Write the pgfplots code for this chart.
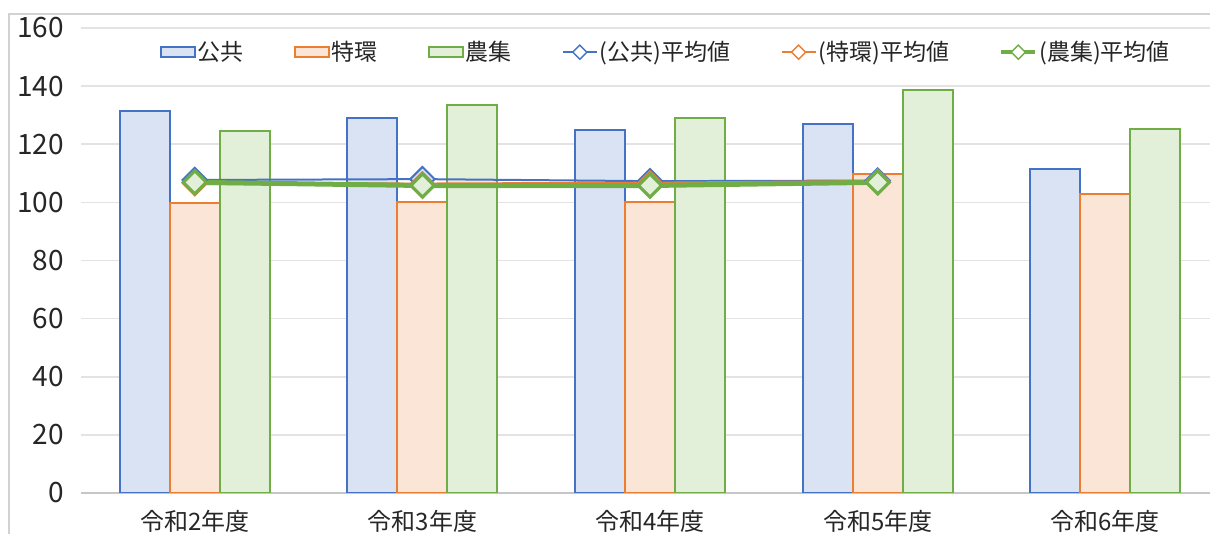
\documentclass[border=0pt]{standalone}
\usepackage{fontspec}
\setmainfont{Noto Sans CJK JP}
\usepackage{pgfplots}
\pgfplotsset{compat=1.18}

\definecolor{kobl}{HTML}{4472C4}
\definecolor{koblf}{HTML}{DAE3F3}
\definecolor{toku}{HTML}{ED7D31}
\definecolor{tokuf}{HTML}{FBE5D6}
\definecolor{nou}{HTML}{70AD47}
\definecolor{nouf}{HTML}{E2F0D9}

% legend images like the spreadsheet's
\pgfplotsset{
  barleg/.style={legend image code/.code={\draw[##1] (0pt,-2.5pt) rectangle (17pt,2.5pt);}},
  lineleg/.style n args={3}{legend image code/.code={
      \draw[#1, line width=#3] (0pt,0pt) -- (17pt,0pt);
      \draw[#1, fill=#2, line width=0.7pt, rotate around={45:(8.5pt,0pt)}]
        (6pt,-2.5pt) rectangle (11pt,2.5pt);}},
}

\begin{document}
\begin{tikzpicture}
\useasboundingbox (0,0) rectangle (605pt,267pt);
\draw[gray!35, line width=1pt] (4.5pt,0pt) -- (4.5pt,260pt) -- (606pt,260pt);
\begin{axis}[
  at={(40.5pt,20.5pt)}, anchor=south west,
  scale only axis, width=564.5pt, height=232.5pt,
  xmin=-0.5, xmax=4.46, ymin=0, ymax=160,
  ytick={0,20,...,160},
  xtick={0,1,2,3,4},
  xticklabels={令和2年度,令和3年度,令和4年度,令和5年度,令和6年度},
  axis x line*=bottom, axis y line*=left,
  y axis line style={draw=none},
  x axis line style={draw=gray!45, line width=0.8pt},
  tick style={draw=none},
  ymajorgrids, grid style={draw=gray!22, line width=0.8pt},
  /pgf/number format/assume math mode=true,
  yticklabel style={font=\fontsize{14}{16}\selectfont, xshift=-5pt, text=black!85},
  xticklabel style={font=\fontsize{12}{14}\selectfont, yshift=-5pt, text=black!85},
  legend columns=6,
  legend style={draw=none, fill=none, at={(0.518,0.948)}, anchor=center,
    font=\fontsize{11.5}{13}\selectfont, text=black!85,
    nodes={inner sep=1pt},
    /tikz/every even column/.append style={column sep=24pt}},
  legend cell align=left,
]

% bars
\addplot[ybar, bar width=25pt, bar shift=-25pt, draw=kobl, fill=koblf, line width=1pt, barleg]
  coordinates {(0,131.3) (1,129.0) (2,125.0) (3,126.8) (4,111.4)};
\addlegendentry{公共}
\addplot[ybar, bar width=25pt, bar shift=0pt, draw=toku, fill=tokuf, line width=1pt, barleg]
  coordinates {(0,99.9) (1,100.0) (2,100.0) (3,109.6) (4,102.9)};
\addlegendentry{特環}
\addplot[ybar, bar width=25pt, bar shift=25pt, draw=nou, fill=nouf, line width=1pt, barleg]
  coordinates {(0,124.4) (1,133.6) (2,129.0) (3,138.6) (4,125.4)};
\addlegendentry{農集}

% averages
\addplot[kobl, line width=1pt, mark=square*, mark size=4.3pt,
  mark options={rotate=45, fill=koblf, draw=kobl, line width=1pt},
  lineleg={kobl}{white}{1pt}]
  coordinates {(0,107.7) (1,108.0) (2,107.3) (3,107.5)};
\addlegendentry{(公共)平均値}
\addplot[toku, line width=1.5pt, mark=square*, mark size=4.1pt,
  mark options={rotate=45, fill=tokuf, draw=toku, line width=1.2pt},
  lineleg={toku}{white}{1.2pt}]
  coordinates {(0,106.5) (1,106.3) (2,106.6) (3,107.2)};
\addlegendentry{(特環)平均値}
\addplot[nou, line width=2.5pt, mark=square*, mark size=4.1pt,
  mark options={rotate=45, fill=nouf, draw=nou, line width=1.6pt},
  lineleg={nou}{white}{2pt}]
  coordinates {(0,106.9) (1,105.8) (2,105.8) (3,106.9)};
\addlegendentry{(農集)平均値}

\end{axis}
\end{tikzpicture}
\end{document}
